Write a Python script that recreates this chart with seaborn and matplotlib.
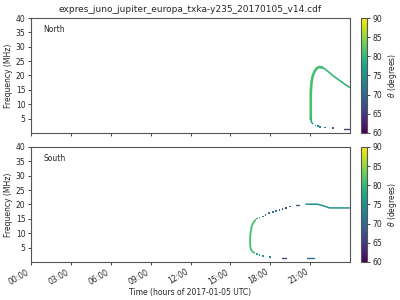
import numpy as np
import pandas as pd
import matplotlib
matplotlib.use("Agg")
import matplotlib.pyplot as plt
import seaborn as sns

title = "expres_juno_jupiter_europa_txka-y235_20170105_v14.cdf"
hour_ticks = [0, 3, 6, 9, 12, 15, 18, 21]
hour_labels = ["00:00", "03:00", "06:00", "09:00", "12:00", "15:00", "18:00", "21:00"]
freq_ticks = [5, 10, 15, 20, 25, 30, 35, 40]
cbar_ticks = [60, 65, 70, 75, 80, 85, 90]

# North: continuous arcs (time h, freq MHz, theta deg)
north_rise_t = [21.05, 21.05, 21.1, 21.2, 21.35, 21.5, 21.7, 21.9]
north_rise_f = [4.8, 14.0, 17.5, 20.0, 21.5, 22.5, 23.0, 22.8]
north_rise_theta = 81
north_decay_t = [21.9, 22.1, 22.4, 22.7, 23.0, 23.3, 23.6, 24.0]
north_decay_f = [22.8, 22.3, 21.2, 20.0, 19.0, 18.0, 17.0, 15.8]
north_decay_theta = 80
north_low_t = [21.05, 21.1, 21.2]
north_low_f = [4.8, 3.8, 3.2]
north_low_theta = 78
north_dash_t = [23.55, 23.9]
north_dash_f = [1.4, 1.4]
north_dash_theta = 65
# North: isolated dots
north_dot_t = [21.4, 21.6, 21.75, 22.1, 22.7]
north_dot_f = [2.6, 2.35, 2.2, 1.9, 1.7]
north_dot_theta = [75, 74, 74, 72, 70]

# South
south_arc_t = [16.88, 16.7, 16.6, 16.5, 16.48, 16.5, 16.55, 16.65, 16.8]
south_arc_f = [14.6, 13.5, 12.3, 9.5, 6.6, 5.4, 4.3, 3.7, 3.2]
south_arc_theta = 81
south_top_t = [20.69, 21.57, 21.8, 22.1, 22.45, 23.0, 23.95]
south_top_f = [20.1, 20.1, 19.8, 19.4, 18.8, 18.8, 18.8]
south_top_theta = 75
south_dash1_t = [18.9, 19.2]
south_dash1_f = [1.4, 1.4]
south_dash1_theta = 66
south_dash2_t = [20.8, 21.3]
south_dash2_f = [1.4, 1.4]
south_dash2_theta = 70
south_dash3_t = [19.9, 20.2]
south_dash3_f = [19.8, 19.8]
south_dash3_theta = 68
south_dot_t = [17.0, 17.2, 17.43, 17.65, 17.93, 18.2, 18.45, 18.7, 18.93, 19.2, 19.5,
               17.0, 17.2, 17.43, 17.98]
south_dot_f = [15.1, 15.5, 15.8, 16.4, 17.0, 17.4, 17.8, 18.2, 18.5, 18.9, 19.3,
               2.8, 2.5, 2.2, 1.8]
south_dot_theta = [76, 75, 74, 73, 72, 71, 70, 69, 68, 67, 67,
                   78, 77, 75, 73]

sns.set_theme(style="ticks")
plt.rcParams["font.family"] = ["DejaVu Sans"]

cmap = plt.get_cmap("viridis")
norm = matplotlib.colors.Normalize(60, 90)

fig = plt.figure(figsize=(4, 3), dpi=100)
ax1 = fig.add_axes([0.0775, 0.5567, 0.7975, 0.3833])
ax2 = fig.add_axes([0.0775, 0.1267, 0.7975, 0.3833])
cax1 = fig.add_axes([0.9025, 0.5567, 0.015, 0.3833])
cax2 = fig.add_axes([0.9025, 0.1267, 0.015, 0.3833])


def draw_line(ax, t, f, theta, lw):
    df = pd.DataFrame({"t": t, "f": f})
    sns.lineplot(data=df, x="t", y="f", sort=False, estimator=None,
                 color=cmap(norm(theta)), lw=lw, ax=ax, legend=False)


def draw_dots(ax, t, f, theta):
    df = pd.DataFrame({"t": t, "f": f, "theta": theta})
    sns.scatterplot(data=df, x="t", y="f", hue="theta", palette="viridis", hue_norm=(60, 90),
                    marker="s", s=1.6, linewidth=0, ax=ax, legend=False)


draw_line(ax1, north_rise_t, north_rise_f, north_rise_theta, 1.9)
draw_line(ax1, north_decay_t, north_decay_f, north_decay_theta, 1.2)
draw_line(ax1, north_low_t, north_low_f, north_low_theta, 1.1)
draw_line(ax1, north_dash_t, north_dash_f, north_dash_theta, 1.0)
draw_dots(ax1, north_dot_t, north_dot_f, north_dot_theta)

draw_line(ax2, south_arc_t, south_arc_f, south_arc_theta, 1.3)
draw_line(ax2, south_top_t, south_top_f, south_top_theta, 1.1)
draw_line(ax2, south_dash1_t, south_dash1_f, south_dash1_theta, 1.0)
draw_line(ax2, south_dash2_t, south_dash2_f, south_dash2_theta, 1.0)
draw_line(ax2, south_dash3_t, south_dash3_f, south_dash3_theta, 1.0)
draw_dots(ax2, south_dot_t, south_dot_f, south_dot_theta)

for ax, name in [(ax1, "North"), (ax2, "South")]:
    ax.set_xlim(0, 24)
    ax.set_ylim(0, 40)
    ax.set_xticks(hour_ticks)
    ax.set_yticks(freq_ticks)
    ax.tick_params(labelsize=5.5, length=2.5, width=0.6, pad=1.5)
    ax.set_ylabel("Frequency (MHz)", fontsize=5.5, labelpad=2)
    ax.set_xlabel("")
    ax.text(0.038, 0.9, name, transform=ax.transAxes, fontsize=5.5, va="center")
    for sp in ax.spines.values():
        sp.set_color("#555555")
        sp.set_linewidth(0.8)

ax1.set_xticklabels([])
ax2.set_xticklabels(hour_labels, rotation=30, ha="right")
ax2.set_xlabel("Time (hours of 2017-01-05 UTC)", fontsize=5.5, labelpad=1)
ax1.set_title(title, fontsize=6.5, pad=4)

sm = matplotlib.cm.ScalarMappable(norm=norm, cmap=cmap)
for cax in (cax1, cax2):
    cb = fig.colorbar(sm, cax=cax, ticks=cbar_ticks)
    cb.ax.tick_params(labelsize=5.5, length=2.5, width=0.6, pad=1.5)
    cb.set_label(r"$\theta$ (degrees)", fontsize=5.5, labelpad=3)
    cb.outline.set_edgecolor("#555555")
    cb.outline.set_linewidth(0.8)

fig.savefig("out.png", dpi=100)
